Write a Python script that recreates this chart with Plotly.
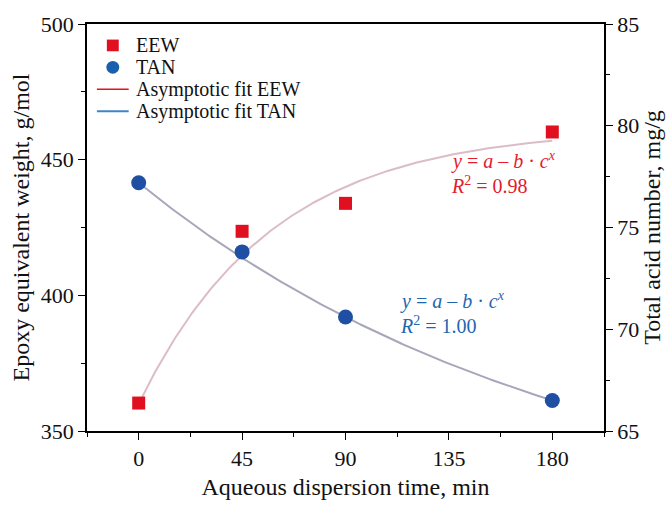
import numpy as np
import plotly.graph_objects as go

# Measured data
time_min = [0, 45, 90, 180]
eew = [360.3, 423.6, 433.9, 460.2]      # epoxy equivalent weight, g/mol
tan = [77.2, 73.8, 70.6, 66.5]          # total acid number, mg/g

# Asymptotic fit parameters, y = a - b * c**x
eew_fit = dict(a=461.6, b=101.6, c=0.98294)
tan_fit = dict(a=59.79, b=-17.41, c=0.99472)

x_ticks = [0, 45, 90, 135, 180]
legend_labels = ["EEW", "TAN", "Asymptotic fit EEW", "Asymptotic fit TAN"]
font_family = "Liberation Serif, DejaVu Serif, serif"

red_pt = "#e01020"
blue_pt = "#1f4fa3"

x_fit = np.linspace(0, 180, 181)


def asymptotic(p, x):
    return p["a"] - p["b"] * p["c"] ** x


fig = go.Figure()

# fitted curves (drawn in soft tones)
fig.add_trace(go.Scatter(x=x_fit, y=asymptotic(eew_fit, x_fit), mode="lines",
                         line=dict(color="#dcbcc6", width=2), showlegend=False,
                         hoverinfo="skip"))
fig.add_trace(go.Scatter(x=x_fit, y=asymptotic(tan_fit, x_fit), mode="lines",
                         line=dict(color="#a6a7ba", width=2), showlegend=False,
                         hoverinfo="skip", yaxis="y2"))

# measured points
fig.add_trace(go.Scatter(x=time_min, y=eew, mode="markers", name="EEW",
                         marker=dict(symbol="square", size=13, color=red_pt),
                         showlegend=False))
fig.add_trace(go.Scatter(x=time_min, y=tan, mode="markers", name="TAN",
                         marker=dict(symbol="circle", size=15, color=blue_pt),
                         showlegend=False, yaxis="y2"))

W, H = 672, 508
ml, mr, mt, mb = 87, 64, 19, 71
pw, ph = W - ml - mr, H - mt - mb


def px(x):
    return (x - ml) / pw


def py(y):
    return 1 - (y - mt) / ph


# legend block (top left, inside the frame)
leg_rows = [41, 63.5, 86, 108.5]
for label, yr in zip(legend_labels, leg_rows):
    fig.add_annotation(x=px(134), y=py(yr), xref="paper", yref="paper",
                       xanchor="left", yanchor="middle", text=label,
                       showarrow=False,
                       font=dict(family=font_family, size=20, color="#111"))
fig.add_shape(type="rect", xref="paper", yref="paper",
              x0=px(107), x1=px(119), y0=py(leg_rows[0] - 6), y1=py(leg_rows[0] + 6),
              fillcolor=red_pt, line=dict(width=0))
fig.add_shape(type="circle", xref="paper", yref="paper",
              x0=px(106.5), x1=px(119.5), y0=py(leg_rows[1] - 6.5),
              y1=py(leg_rows[1] + 6.5), fillcolor="#1a5fae", line=dict(width=0))
fig.add_shape(type="line", xref="paper", yref="paper",
              x0=px(97), x1=px(129), y0=py(leg_rows[2]), y1=py(leg_rows[2]),
              line=dict(color="#e8101e", width=1.5))
fig.add_shape(type="line", xref="paper", yref="paper",
              x0=px(97), x1=px(129), y0=py(leg_rows[3]), y1=py(leg_rows[3]),
              line=dict(color="#3c86c6", width=2))

red = "#e31b2b"
blue = "#1f66b0"
eq = "<i>y</i> = <i>a</i> – <i>b</i> · <i>c</i><sup><i>x</i></sup>"
annots = [
    dict(x=452, y=159, text=eq, color=red),
    dict(x=452, y=184, text="<i>R</i><sup>2</sup> = 0.98", color=red),
    dict(x=400, y=303, text=eq, color=blue),
    dict(x=400, y=328, text="<i>R</i><sup>2</sup> = 1.00", color=blue),
]
for a in annots:
    fig.add_annotation(
        x=px(a["x"]), y=py(a["y"]),
        xref="paper", yref="paper", xanchor="left", yanchor="middle",
        text=a["text"], showarrow=False,
        font=dict(family=font_family, size=20, color=a["color"]))

axis_font = dict(family=font_family, size=24, color="#111")
tick_font = dict(family=font_family, size=22, color="#111")

fig.update_layout(
    width=W, height=H,
    margin=dict(l=ml, r=mr, t=mt, b=mb),
    paper_bgcolor="white", plot_bgcolor="white",
    font=dict(family=font_family, color="#111"),
    showlegend=False,
    xaxis=dict(
        range=[-22.5, 202.5], tickvals=x_ticks, ticks="outside", ticklen=7,
        tickcolor="black", showline=True, linecolor="black", linewidth=1.5,
        mirror=True, showgrid=False, zeroline=False, tickfont=tick_font,
        title=dict(text="Aqueous dispersion time, min", font=axis_font, standoff=8),
        minor=dict(dtick=22.5, tick0=-22.5, ticks="outside", ticklen=4,
                   tickcolor="black", showgrid=False),
    ),
    yaxis=dict(
        range=[350, 500], dtick=50, ticks="outside", ticklen=7, tickcolor="black",
        showline=True, linecolor="black", linewidth=1.5, showgrid=False,
        zeroline=False, tickfont=tick_font,
        title=dict(text="Epoxy equivalent weight, g/mol", font=axis_font, standoff=4),
        minor=dict(dtick=25, ticks="outside", ticklen=4, tickcolor="black",
                   showgrid=False),
    ),
    yaxis2=dict(
        range=[65, 85], dtick=5, overlaying="y", side="right", ticks="outside",
        ticklen=7, tickcolor="black", showline=True, linecolor="black",
        linewidth=1.5, showgrid=False, zeroline=False, tickfont=tick_font,
        title=dict(text="Total acid number, mg/g", font=axis_font, standoff=4),
        minor=dict(dtick=2.5, ticks="outside", ticklen=4, tickcolor="black",
                   showgrid=False),
    ),
)

fig.write_html("out.html")
